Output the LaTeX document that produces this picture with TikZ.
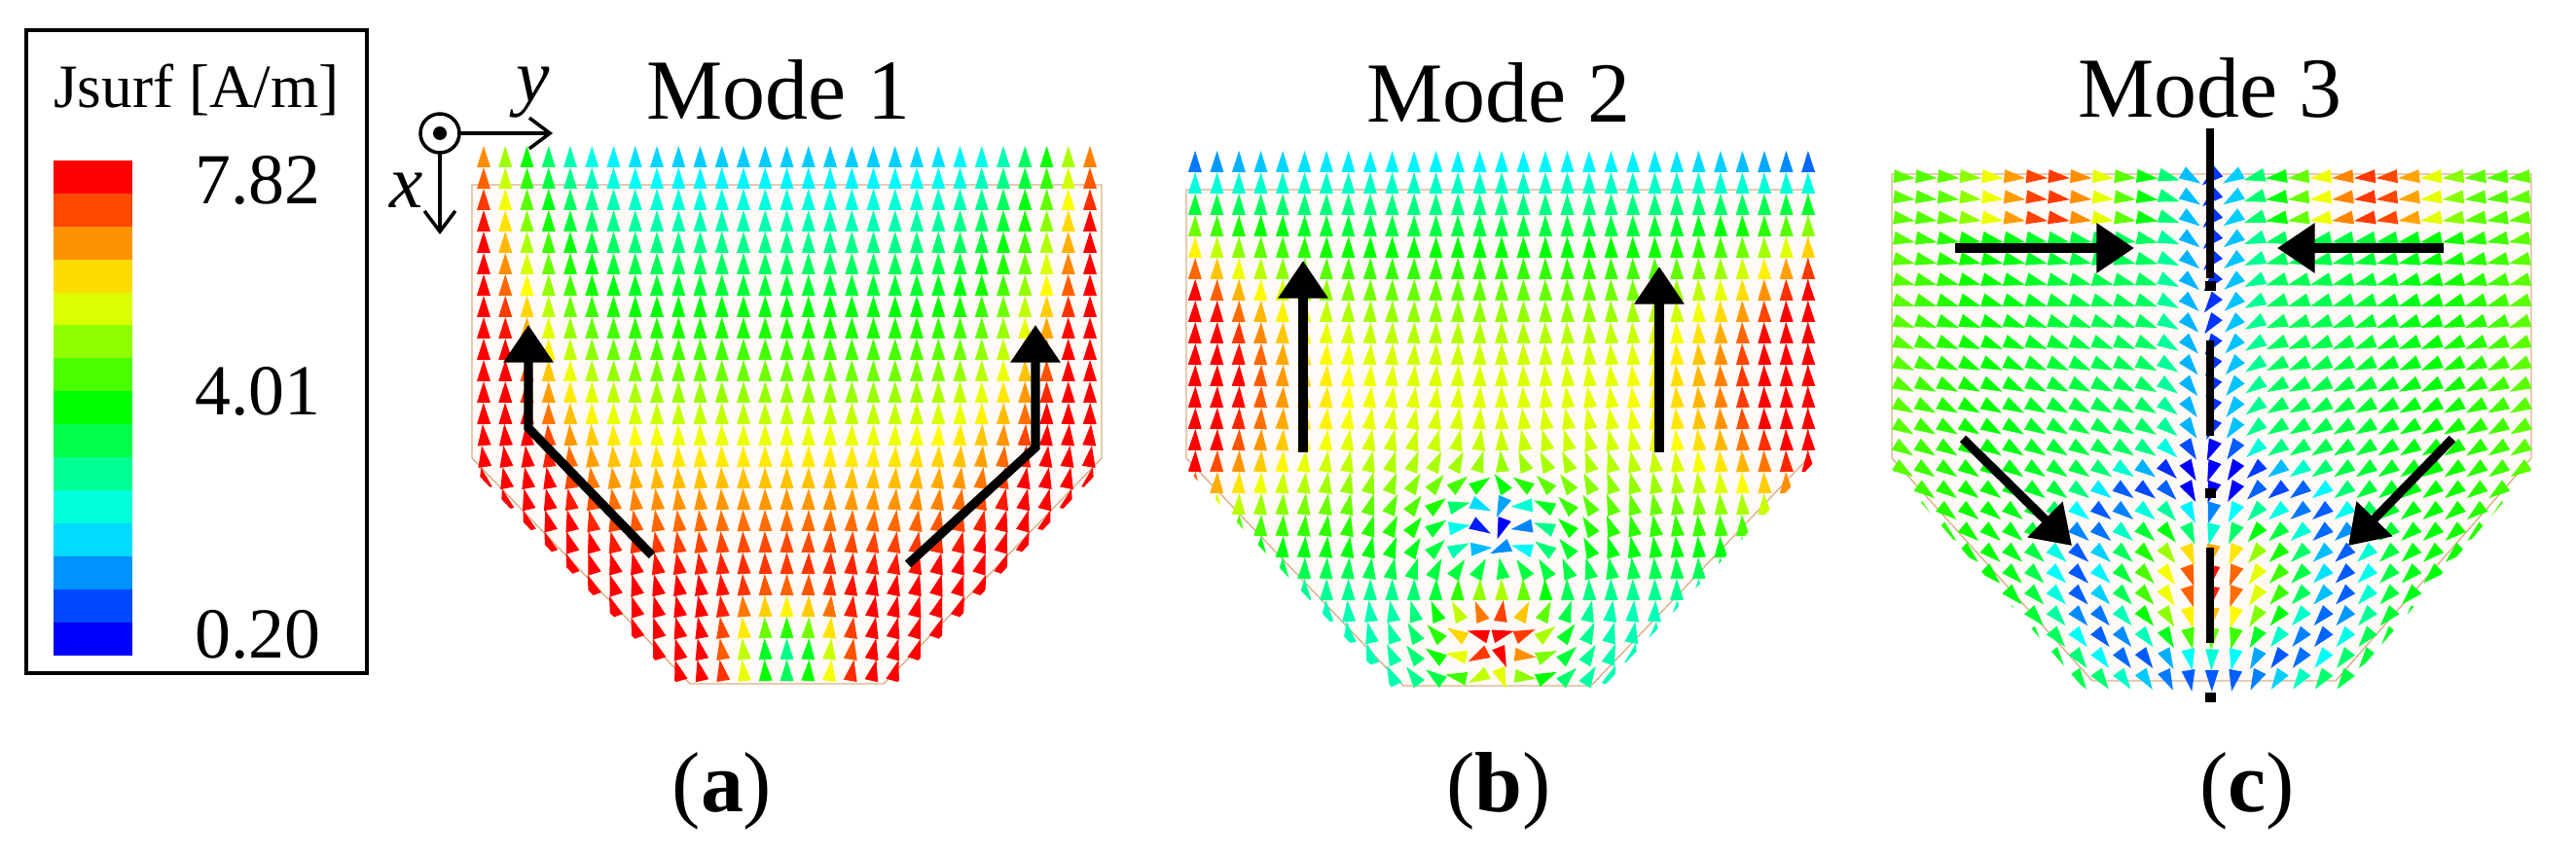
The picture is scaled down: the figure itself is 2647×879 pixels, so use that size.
\documentclass[tikz,border=0pt]{standalone}
\usepackage{fontspec}
\setmainfont{Liberation Serif}
\usetikzlibrary{arrows.meta}
\newcommand\tri[4]{%
 \pgfmathsetmacro\tca{cos(#3)}\pgfmathsetmacro\tsa{sin(#3)}%
 \pgfmathsetmacro\tv{max(0,min(1,#4))}%
 \pgfmathsetmacro\thue{240*(1-\tv)}%
 \definecolor{tc}{Hsb}{\thue,1,1}%
 \fill[tc] ({#1+13*\tca},{#2-13*\tsa}) -- ({#1-9*\tca-7*\tsa},{#2+9*\tsa-7*\tca}) -- ({#1-9*\tca+7*\tsa},{#2+9*\tsa+7*\tca}) -- cycle;}
\tikzset{
 plate/.style={fill=orange!4, draw=brown!60, line width=0.4pt},
 bigarrow/.style={line width=2.6pt, -{Triangle[length=11pt,width=14pt]}},
 ttl/.style={font=\fontsize{25}{25}\selectfont, inner sep=0pt},
 lbl/.style={font=\fontsize{25}{25}\selectfont, inner sep=0pt},
 num/.style={font=\fontsize{21}{21}\selectfont, inner sep=0pt}
}
\begin{document}
\begin{tikzpicture}[x={(0.01cm,0)},y={(0,-0.01cm)}]
\useasboundingbox (0,0) rectangle (2647,879);
% legend
\draw[line width=1.2pt] (27,31) rectangle (377,692);
\node[font=\fontsize{18}{18}\selectfont, inner sep=0pt] (jt) at (202,92) {Jsurf [A/m]};
\foreach \k in {0,...,14}{
 \pgfmathsetmacro\hh{240*\k/14}
 \definecolor{bc}{Hsb}{\hh,1,1}
 \fill[bc] (55,{165+\k*33.9}) rectangle (136,{165+(\k+1)*33.9});
}
\node[num] (n1) at (265,185) {7.82};
\node[num] (n2) at (265,402) {4.01};
\node[num] (n3) at (265,652) {0.20};
% ---- Mode 1
\draw[plate] (485,190) -- (1132,190) -- (1132,471) -- (908,703) -- (709,703) -- (485,471) -- cycle;
\begin{scope}
\clip (475,140) -- (1142,140) -- (1142,471) -- (912,712) -- (705,712) -- (475,471) -- cycle;
\foreach \i in {0,...,28}{\foreach \j in {0,...,24}{
 \pgfmathsetmacro\x{497+\i*22.25}\pgfmathsetmacro\y{163+\j*22}
 \pgfmathsetmacro\u{(\x-808)/323}\pgfmathsetmacro\t{(\y-190)/513}
 \pgfmathsetmacro\a{90-50*\u*max(0,(\t-0.45)/0.55)}
 \pgfmathsetmacro\v{0.25+0.95*\t+0.8*abs(\u)^5-0.8*exp(-((\x-808)/60)^2-((\y-680)/55)^2)}
 \tri{\x}{\y}{\a}{\v}
}}
\end{scope}
\node[ttl] (m1) at (800,92) {Mode 1};
\draw[line width=1pt] (452,137) circle (20);
\fill (452,137) circle (7);
\coordinate (ya) at (568,137); \coordinate (xa) at (452,241);
\draw[line width=1pt,-{Straight Barb[length=6pt,width=9pt]}] (472,137) -- (ya);
\draw[line width=1pt,-{Straight Barb[length=6pt,width=9pt]}] (452,157) -- (xa);
\node[font=\itshape\fontsize{22}{22}\selectfont, inner sep=0pt] (yl) at (548,95) {y};
\node[font=\itshape\fontsize{22}{22}\selectfont, inner sep=0pt] (xl) at (418,196) {x};
\coordinate (a1) at (670,571); \coordinate (a2) at (543,440); \coordinate (a3) at (543,334);
\draw[bigarrow] (a1) -- (a2) -- (a3);
\coordinate (b1) at (933,580); \coordinate (b2) at (1064,460); \coordinate (b3) at (1064,334);
\draw[bigarrow] (b1) -- (b2) -- (b3);
\node[lbl] (la) at (742,813) {(\textbf{a})};
% ---- Mode 2
\draw[plate] (1219,195) -- (1858,195) -- (1858,471) -- (1635,705) -- (1442,705) -- (1219,471) -- cycle;
\begin{scope}
\clip (1209,140) -- (1868,140) -- (1868,471) -- (1640,714) -- (1437,714) -- (1209,471) -- cycle;
\foreach \i in {0,...,28}{\foreach \j in {0,...,24}{
 \pgfmathsetmacro\x{1228+\i*22.5}\pgfmathsetmacro\y{168+\j*22}
 \pgfmathsetmacro\u{(\x-1538)/320}\pgfmathsetmacro\t{(\y-195)/510}
 \pgfmathsetmacro\rx{(\x-1538)/80}\pgfmathsetmacro\ry{-(\y-610)/80}
 \pgfmathsetmacro\rr{\rx*\rx+\ry*\ry+0.4}
 \pgfmathsetmacro\fx{-6.6*\ry*\rx/\rr/\rr/sqrt(\rr)}
 \pgfmathsetmacro\fy{1-2.2*(3*\ry*\ry-\rr)/\rr/\rr/sqrt(\rr)}
 \pgfmathsetmacro\a{atan2(\fy,\fx)}
 \pgfmathsetmacro\v{0.32+0.4*sin(180*min(1,\t*1.2))+0.6*abs(\u)^4*sin(180*min(1,\t*1.4))+0.8*exp(-((\x-1538)/55)^2-((\y-655)/50)^2)-0.6*exp(-((\x-1538)/45)^2-((\y-540)/35)^2)}
 \tri{\x}{\y}{\a}{\v}
}}
\end{scope}
\node[ttl] (m2) at (1540,95) {Mode 2};
\coordinate (c1) at (1339,465); \coordinate (c2) at (1339,268);
\draw[bigarrow] (c1) -- (c2);
\coordinate (d1) at (1705,465); \coordinate (d2) at (1705,274);
\draw[bigarrow] (d1) -- (d2);
\node[lbl] (lb) at (1540,813) {(\textbf{b})};
% ---- Mode 3
\draw[plate] (1944,179) -- (2601,179) -- (2601,471) -- (2400,700) -- (2150,700) -- (1944,471) -- cycle;
\begin{scope}
\clip (1934,140) -- (2611,140) -- (2611,471) -- (2405,712) -- (2145,712) -- (1934,471) -- cycle;
\foreach \i in {0,...,28}{\foreach \j in {0,...,24}{
 \pgfmathsetmacro\x{1955+\i*22.7}\pgfmathsetmacro\y{182+\j*21.5}
 \pgfmathsetmacro\u{(\x-2272)/328}\pgfmathsetmacro\t{(\y-179)/521}
 \pgfmathsetmacro\al{-(5+50*\t)-35*exp(-(\u/0.12)^2)}
 \pgfmathsetmacro\a{ifthenelse(\u<0,\al,180-\al)}
 \pgfmathsetmacro\dd{100*sqrt(((\x-2272)/100)^2+(1.3*(\y-590)/100)^2)}
 \pgfmathsetmacro\v{0.4+0.2*abs(\u)^2-0.35*exp(-(\u/0.1)^2)*ifthenelse(\t<0.72,1,0)-0.35*exp(-((\dd-135)/30)^2)*ifthenelse(\y>440,1,0)+0.6*exp(-((\x-2272)/60)^2-((\y-600)/55)^2)+ifthenelse(\t<0.1,0.5*exp(-((abs(\u)-0.5)/0.22)^2),0)}
 \tri{\x}{\y}{\a}{\v}
}}
\end{scope}
\node[ttl] (m3) at (2271,90) {Mode 3};
\coordinate (s0) at (2271,132); \coordinate (s1) at (2271,286);
\coordinate (s2) at (2271,350); \coordinate (s3) at (2271,448);
\coordinate (s4) at (2271,563); \coordinate (s5) at (2271,661);
\draw[line width=2.2pt] (s0) -- (s1) (s2) -- (s3) (s4) -- (s5);
\fill (2266,289) rectangle (2277,299);
\fill (2266,502) rectangle (2277,512);
\fill (2266,712) rectangle (2277,722);
\coordinate (e1) at (2009,255); \coordinate (e2) at (2193,255);
\draw[bigarrow] (e1) -- (e2);
\coordinate (f1) at (2511,255); \coordinate (f2) at (2340,255);
\draw[bigarrow] (f1) -- (f2);
\coordinate (g1) at (2017,451); \coordinate (g2) at (2129,561);
\draw[bigarrow] (g1) -- (g2);
\coordinate (h1) at (2520,451); \coordinate (h2) at (2413,561);
\draw[bigarrow] (h1) -- (h2);
\node[lbl] (lc) at (2309,813) {(\textbf{c})};
\end{tikzpicture}
\end{document}
